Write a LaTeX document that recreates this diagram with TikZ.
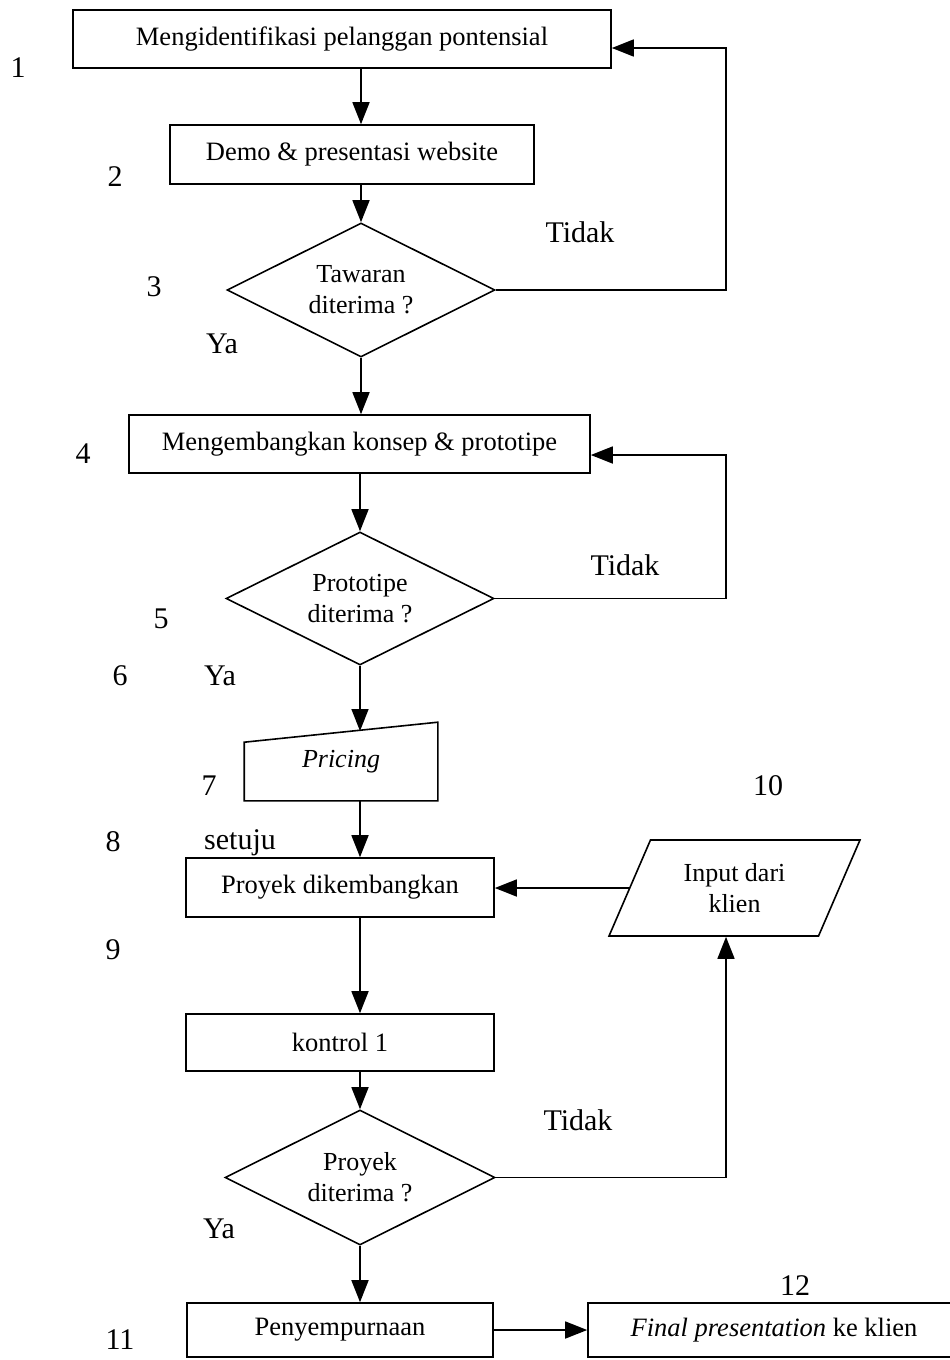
\documentclass[tikz,border=0pt]{standalone}
\usepackage{fontspec}
\setmainfont{Liberation Serif}
\usetikzlibrary{arrows.meta,shapes.geometric,calc}
\begin{document}
\begin{tikzpicture}[x=1pt,y=-1pt, line width=1.6pt,
 box/.style={draw, rectangle, inner sep=0pt, font=\fontsize{26.5}{31}\selectfont},
 dia/.style={draw, diamond, aspect=2, inner sep=0pt, minimum width=268pt, minimum height=134pt, align=center, font=\fontsize{26}{31}\selectfont},
 lbl/.style={font=\fontsize{30}{36}\selectfont, inner sep=0pt},
 arr/.style={-{Triangle[length=22pt,width=17pt]}}]
\useasboundingbox (0,0) rectangle (950,1360);
\fill[white] (0,0) rectangle (950,1360);

% boxes
\node[box, minimum width=538pt, minimum height=58pt] (b1) at (342,39) {Mengidentifikasi pelanggan pontensial};
\node[box, minimum width=364pt, minimum height=59pt] (b2) at (352,154.5) {Demo \& presentasi website};
\node[dia] (d3) at (361,290) {Tawaran\\diterima ?};
\node[box, minimum width=461pt, minimum height=58pt] (b4) at (359.5,444) {Mengembangkan konsep \& prototipe};
\node[dia, minimum height=133pt] (d5) at (360,598.5) {Prototipe\\diterima ?};
\node[inner sep=0pt, minimum width=192pt, minimum height=77pt, font=\fontsize{26}{31}\selectfont\itshape] (pr) at (341,761.5) {Pricing};
\draw (pr.south west) -- (pr.south east) -- (pr.north east) -- ($(pr.north west)+(0,20)$) -- cycle;
\coordinate (prtop) at (360,731);
\node[box, minimum width=308pt, minimum height=59pt] (b8) at (340,887.5) {Proyek dikembangkan};
\node[draw, trapezium, trapezium left angle=63, trapezium right angle=117, trapezium stretches=true, inner sep=0pt, minimum width=251pt, minimum height=96pt, align=center, font=\fontsize{26}{31}\selectfont] (inp) at (734.5,888) {Input dari\\klien};
\node[box, minimum width=308pt, minimum height=57pt] (b9) at (340,1042.5) {kontrol 1};
\node[dia, minimum width=270pt, minimum height=135pt] (dc) at (360,1177.5) {Proyek\\diterima ?};
\node[box, minimum width=306pt, minimum height=54pt] (b11) at (340,1330) {Penyempurnaan};
\node[box, minimum width=372pt, minimum height=54pt] (b12) at (774,1330) {\textit{Final presentation} ke klien};

% connectors
\draw[arr] (b1.south -| d3.north) -- (b2.north -| d3.north);
\draw[arr] (b2.south -| d3.north) -- (d3.north);
\draw[arr] (d3.south) -- (b4.north -| d3.south);
\draw[arr] (b4.south -| d5.north) -- (d5.north);
\draw[arr] (d5.south) -- (prtop);
\draw[arr] (pr.south -| prtop) -- (b8.north -| prtop);
\draw[arr] (b8.south -| prtop) -- (b9.north -| prtop);
\draw[arr] (b9.south -| dc.north) -- (dc.north);
\draw[arr] (dc.south) -- (b11.north -| dc.south);
\draw[arr] (b11.east) -- (b12.west);
\draw[arr] (inp.west) -- (inp.west -| b8.east);
\coordinate (l1) at (726,48);
\coordinate (l2) at (726,455);
\draw[arr] (d3.east) -| (l1) -- (l1 -| b1.east);
\draw[arr] (d5.east) -| (l2) -- (l2 -| b4.east);
\draw[arr] (dc.east) -| (inp.south -| l1);

% labels
\node[lbl] (n1) at (18,68) {1};
\node[lbl] (n2) at (115,177) {2};
\node[lbl] (n3) at (154,287) {3};
\node[lbl] (n4) at (83,454) {4};
\node[lbl] (n5) at (161,619) {5};
\node[lbl] (n6) at (120,676) {6};
\node[lbl] (n7) at (209,786) {7};
\node[lbl] (n8) at (113,842) {8};
\node[lbl] (n9) at (113,950) {9};
\node[lbl] (n10) at (768,786) {10};
\node[lbl] (n11) at (120,1340) {11};
\node[lbl] (n12) at (795,1286) {12};
\node[lbl] (y1) at (222,344) {Ya};
\node[lbl] (y2) at (220,676) {Ya};
\node[lbl] (y3) at (219,1229) {Ya};
\node[lbl] (st) at (240,843) {setuju};
\node[lbl] (t1) at (580,232) {Tidak};
\node[lbl] (t2) at (625,565) {Tidak};
\node[lbl] (t3) at (578,1120) {Tidak};
\end{tikzpicture}
\end{document}
